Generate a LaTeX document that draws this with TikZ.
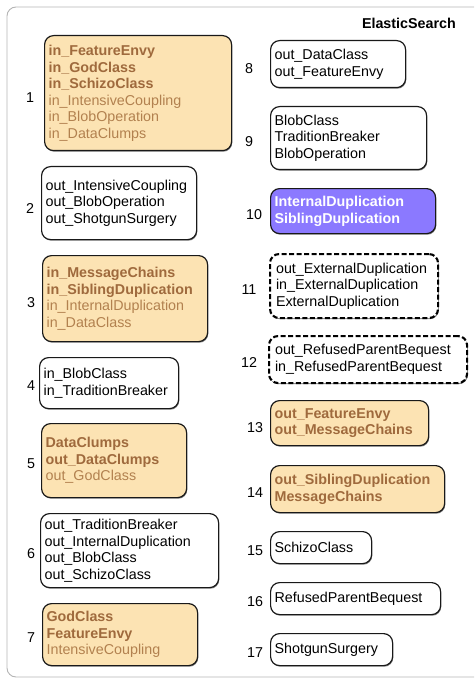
\documentclass[tikz,border=0pt]{standalone}
\usepackage{fontspec}
\setmainfont{Liberation Sans}
\usetikzlibrary{shadows}
\definecolor{peach}{HTML}{FCE3B3}
\definecolor{brownbold}{HTML}{9F6A3D}
\definecolor{brownlight}{HTML}{B2814F}
\definecolor{violet}{HTML}{8B79FF}
\definecolor{framegray}{HTML}{B4B4B4}
\newcommand{\hotline}[1]{\textbf{\color{brownbold}#1}}
\begin{document}
\begin{tikzpicture}[x=1pt,y=-1pt,
  every node/.style={font=\fontsize{14.3}{16.5}\selectfont},
  smell/.style={draw=black!90, line width=1.2pt, rounded corners=9pt,
    anchor=north west, inner xsep=4pt, inner ysep=0pt, align=left,
    fill=white, text=black,
    drop shadow={shadow xshift=0.7pt, shadow yshift=-1.1pt, opacity=0.5, fill=black}},
  hot/.style={smell, fill=peach, text=brownlight},
  dup/.style={smell, fill=violet, text=white, font=\fontsize{14.3}{16.5}\selectfont\bfseries},
  dashbox/.style={smell, draw=black, dash pattern=on 5pt off 2.5pt, line width=2.1pt, inner xsep=6pt},
  num/.style={anchor=center, inner sep=0pt, text=black}]
\useasboundingbox (0,0) rectangle (474,679);
\begin{scope}
\clip (0,0) rectangle (474,679);
\draw[framegray, line width=0.9pt, rounded corners=9pt] (7,7) rectangle (520,677);
\end{scope}

\node[anchor=base east, inner sep=0pt] (title) at (456,29) {\bfseries ElasticSearch};

% left column
\node[hot, text width=179pt, minimum height=115pt] (s1) at (44,35)
  {\hotline{in\_FeatureEnvy}\\\hotline{in\_GodClass}\\\hotline{in\_SchizoClass}\\in\_IntensiveCoupling\\in\_BlobOperation\\in\_DataClumps};
\node[smell, text width=147pt, minimum height=73pt] (s2) at (41,166)
  {out\_IntensiveCoupling\\out\_BlobOperation\\out\_ShotgunSurgery};
\node[hot, text width=157pt, minimum height=86pt] (s3) at (42,255)
  {\hotline{in\_MessageChains}\\\hotline{in\_SiblingDuplication}\\in\_InternalDuplication\\in\_DataClass};
\node[smell, text width=131pt, minimum height=51pt] (s4) at (39,357)
  {in\_BlobClass\\in\_TraditionBreaker};
\node[hot, text width=137pt, minimum height=74pt] (s5) at (41,423)
  {\hotline{DataClumps}\\\hotline{out\_DataClumps}\\out\_GodClass};
\node[smell, text width=170pt, minimum height=74pt] (s6) at (40,513)
  {out\_TraditionBreaker\\out\_InternalDuplication\\out\_BlobClass\\out\_SchizoClass};
\node[hot, text width=147pt, minimum height=62pt] (s7) at (42,603)
  {\hotline{GodClass}\\\hotline{FeatureEnvy}\\IntensiveCoupling};

% right column
\node[smell, text width=127pt, minimum height=47pt] (s8) at (270,40)
  {out\_DataClass\\out\_FeatureEnvy};
\node[smell, text width=148pt, minimum height=63pt] (s9) at (270,106)
  {BlobClass\\TraditionBreaker\\BlobOperation};
\node[dup, text width=157pt, minimum height=45pt] (s10) at (270,188)
  {InternalDuplication\\SiblingDuplication};
\node[dashbox, text width=156pt, minimum height=64pt] (s11) at (269,253)
  {out\_ExternalDuplication\\in\_ExternalDuplication\\ExternalDuplication};
\node[dashbox, text width=186pt, minimum height=47pt] (s12) at (268,335)
  {out\_RefusedParentBequest\\in\_RefusedParentBequest};
\node[hot, text width=150pt, minimum height=45pt] (s13) at (270,400)
  {\hotline{out\_FeatureEnvy}\\\hotline{out\_MessageChains}};
\node[hot, text width=166pt, minimum height=47pt] (s14) at (270,465)
  {\hotline{out\_SiblingDuplication}\\\hotline{MessageChains}};
\node[smell, text width=93pt, minimum height=32pt] (s15) at (270,531)
  {SchizoClass};
\node[smell, text width=162pt, minimum height=32pt] (s16) at (270,582)
  {RefusedParentBequest};
\node[smell, text width=114pt, minimum height=32pt] (s17) at (270,633)
  {ShotgunSurgery};

% cluster numbers
\node[num] (n1) at (30,98) {1};
\node[num] (n2) at (30,209) {2};
\node[num] (n3) at (31,303) {3};
\node[num] (n4) at (31,386) {4};
\node[num] (n5) at (31,464) {5};
\node[num] (n6) at (31,554) {6};
\node[num] (n7) at (31,638) {7};
\node[num] (n8) at (249,69) {8};
\node[num] (n9) at (249,142) {9};
\node[num] (n10) at (254,215) {10};
\node[num] (n11) at (249,290) {11};
\node[num] (n12) at (249,363) {12};
\node[num] (n13) at (255,428) {13};
\node[num] (n14) at (255,493) {14};
\node[num] (n15) at (255,551) {15};
\node[num] (n16) at (255,602) {16};
\node[num] (n17) at (255,653) {17};
\end{tikzpicture}
\end{document}
